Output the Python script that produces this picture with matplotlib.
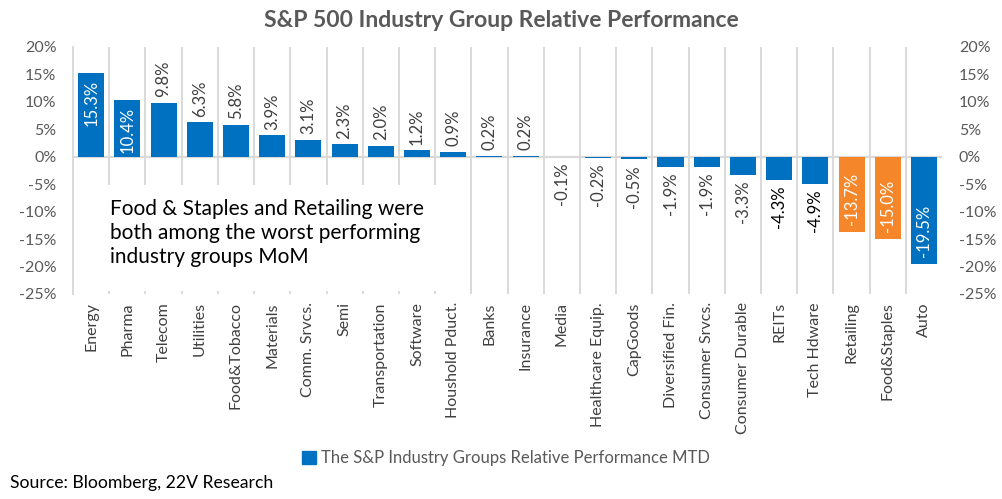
import matplotlib.pyplot as plt
from matplotlib.patches import Patch, Rectangle

plt.rcParams['font.family'] = ['Lato', 'DejaVu Sans']

groups = ['Energy', 'Pharma', 'Telecom', 'Utilities', 'Food&Tobacco', 'Materials',
          'Comm. Srvcs.', 'Semi', 'Transportation', 'Software', 'Houshold Pduct.',
          'Banks', 'Insurance', 'Media', 'Healthcare Equip.', 'CapGoods',
          'Diversified Fin.', 'Consumer Srvcs.', 'Consumer Durable', 'REITs',
          'Tech Hdware', 'Retailing', 'Food&Staples', 'Auto']
perf = [15.3, 10.4, 9.8, 6.3, 5.8, 3.9, 3.1, 2.3, 2.0, 1.2, 0.9, 0.2, 0.2,
        -0.1, -0.2, -0.5, -1.9, -1.9, -3.3, -4.3, -4.9, -13.7, -15.0, -19.5]
highlight = ['Retailing', 'Food&Staples']
yticks = [20, 15, 10, 5, 0, -5, -10, -15, -20, -25]

BLUE = '#0070C0'
ORANGE = '#F5872A'
GRID = '#D9D9D9'
GREY = '#595959'

fig = plt.figure(figsize=(10.02, 4.99), dpi=100)
ax = fig.add_axes([0.0729, 0.411, 0.8673, 0.495])

x = list(range(len(groups)))
colors = [ORANGE if g in highlight else BLUE for g in groups]
ax.bar(x, perf, width=0.72, color=colors, zorder=2)

# category separators
for k in range(1, len(groups)):
    ax.axvline(k - 0.5, color=GRID, lw=1.4, zorder=0)
ax.axhline(0, color=GRID, lw=1.6, zorder=1)

for i, v in enumerate(perf):
    txt = f'{v:.1f}%'
    if abs(v) > 10:
        off, va, col = (-5, 'top', 'white') if v > 0 else (5, 'bottom', 'white')
    else:
        off, va = (4, 'bottom') if v > 0 else (-4, 'top')
        col = 'black' if groups[i] in ('REITs', 'Tech Hdware') else '#404040'
    ax.annotate(txt, (i, v), xytext=(0, off), textcoords='offset points',
                rotation=90, ha='center', va=va, color=col, fontsize=12, zorder=4)

ax.set_xlim(-0.5, len(groups) - 0.5)
ax.set_ylim(-25, 20)
ax.set_yticks(yticks)
ax.set_yticklabels([f'{t}%' for t in yticks])
ax.set_xticks(x)
ax.set_xticklabels(groups, rotation=90, fontsize=11.5, color='#404040')
ax.tick_params(axis='y', length=0, labelsize=11.5, labelcolor=GREY, pad=12)
ax.tick_params(axis='x', length=0, labelcolor='#404040', pad=6)
for s in ['top', 'right', 'bottom']:
    ax.spines[s].set_visible(False)
ax.spines['left'].set_color(GRID)
ax.spines['left'].set_linewidth(1.4)

ax2 = ax.twinx()
ax2.set_ylim(-25, 20)
ax2.set_yticks(yticks)
ax2.set_yticklabels([f'{t}%' for t in yticks])
ax2.tick_params(length=0, labelsize=11.5, labelcolor=GREY, pad=12)
for s in ax2.spines.values():
    s.set_visible(False)

# white box behind the note
ax.add_patch(Rectangle((0.004, 0.01), 0.43, 0.43, transform=ax.transAxes,
                       facecolor='white', edgecolor='none', zorder=3))
ax.text(0.043, 0.385, 'Food & Staples and Retailing were\nboth among the worst performing\nindustry groups MoM',
        transform=ax.transAxes, fontsize=15, color='black', va='top', ha='left',
        linespacing=1.25, zorder=5)

fig.text(0.5, 0.958, 'S&P 500 Industry Group Relative Performance', ha='center', va='center',
         fontsize=16.5, fontweight='bold', color=GREY)
fig.legend(handles=[Patch(color=BLUE, label='The S&P Industry Groups Relative Performance MTD')],
           loc='center', bbox_to_anchor=(0.505, 0.082), frameon=False, fontsize=12,
           handlelength=0.8, handleheight=0.8, handletextpad=0.3, labelcolor=GREY)
fig.text(0.01, 0.032, 'Source: Bloomberg, 22V Research', ha='left', va='center',
         fontsize=12.7, color='black')

fig.savefig('out.png', dpi=100)
